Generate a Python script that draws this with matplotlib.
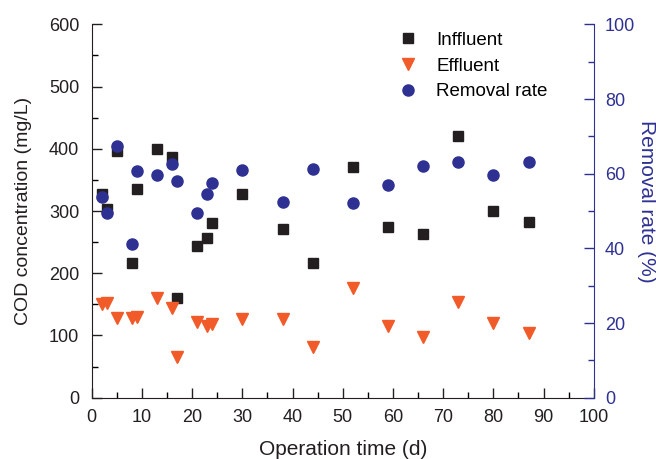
import matplotlib.pyplot as plt

plt.rcParams['font.family'] = ['Liberation Sans', 'DejaVu Sans']

# Datos
days = [2, 3, 5, 8, 9, 13, 16, 17, 21, 23, 24, 30, 38, 44, 52, 59, 66, 73, 80, 87]
influent = [328, 304, 397, 217, 336, 400, 387, 160, 244, 256, 281, 327,
            271, 217, 371, 274, 263, 420, 300, 283]
effluent = [151, 153, 128, 128, 130, 160, 144, 66, 122, 115, 118, 127,
            127, 82, 177, 115, 98, 154, 120, 104]
removal = [53.7, 49.6, 67.5, 41.2, 60.7, 59.7, 62.5, 58.1, 49.6, 54.5, 57.4, 61.0,
           52.4, 61.2, 52.1, 57.1, 62.0, 63.0, 59.7, 63.0]

black = '#231f20'
orange = '#f15a29'
blue = '#2e3192'

fig = plt.figure(figsize=(6.56, 4.59), dpi=100)
ax = fig.add_axes([0.1398, 0.1335, 0.7654, 0.8135])
ax2 = ax.twinx()

h1, = ax.plot(days, influent, 's', color=black, markersize=7, label='Inffluent', zorder=3)
h2, = ax.plot(days, effluent, 'v', color=orange, markersize=8.5, label='Effluent', zorder=3)
h3, = ax2.plot(days, removal, 'o', color=blue, markersize=8, label='Removal rate', zorder=3)

ax.set_xlim(0, 100)
ax.set_ylim(0, 600)
ax2.set_ylim(0, 100)

ax.set_xticks(range(0, 101, 10))
ax.set_xticks(range(5, 100, 10), minor=True)
ax.set_yticks(range(0, 601, 100))
ax.set_yticks(range(50, 600, 100), minor=True)
ax2.set_yticks(range(0, 101, 20))
ax2.set_yticks(range(10, 100, 20), minor=True)

for a in (ax, ax2):
    a.spines['top'].set_visible(False)
    a.tick_params(which='major', direction='in', length=7, width=1, labelsize=13)
    a.tick_params(which='minor', direction='in', length=4, width=1)

ax.tick_params(axis='x', which='both', pad=8)
ax.tick_params(axis='y', which='both', pad=9)
ax2.tick_params(axis='y', which='both', pad=8)

ax.spines['right'].set_visible(False)
ax2.spines['left'].set_visible(False)
ax2.spines['bottom'].set_visible(False)
ax.spines['left'].set_color(black)
ax.spines['bottom'].set_color(black)
ax2.spines['right'].set_color(blue)
ax2.tick_params(axis='y', which='both', colors=blue, labelcolor=blue)
ax.tick_params(colors=black, labelcolor=black)

ax.set_xlabel('Operation time (d)', fontsize=15, color=black, labelpad=10)
ax.set_ylabel('COD concentration (mg/L)', fontsize=14, color=black, labelpad=12)
ax2.set_ylabel('Removal rate (%)', fontsize=15, color=blue, rotation=270,
               va='center', ha='center')
ax2.yaxis.set_label_coords(1.105, 0.525)

ax2.legend(handles=[h1, h2, h3], loc='upper left', bbox_to_anchor=(0.597, 1.0),
           frameon=False, fontsize=13.5, handlelength=1, handletextpad=1.0,
           labelspacing=0.45, borderaxespad=0)

fig.savefig('out.png', dpi=100)
